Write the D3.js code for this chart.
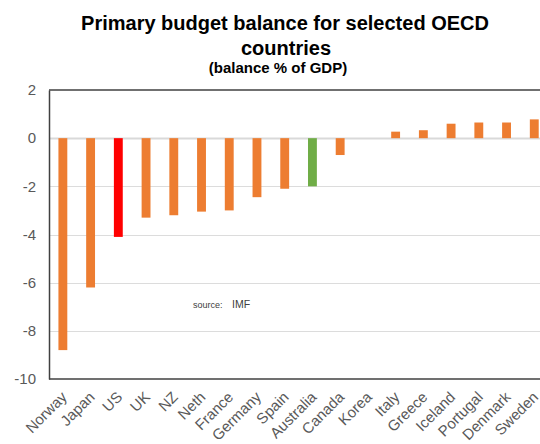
<!DOCTYPE html>
<html>
<head>
  <meta charset="UTF-8">
  <script src="https://d3js.org/d3.v7.min.js"></script>
  <title>Primary budget balance</title>
  <style>
    body { margin: 0; background: #fff; }
    svg { display: block; font-family: "Liberation Sans", Arial, sans-serif; }
  </style>
</head>
<body>
  <svg width="540" height="444"></svg>
  <script>
    // data
    const countries = ["Norway", "Japan", "US", "UK", "NZ", "Neth", "France", "Germany", "Spain",
      "Australia", "Canada", "Korea", "Italy", "Greece", "Iceland", "Portugal", "Denmark", "Sweden"];
    const balance = [-8.8, -6.2, -4.1, -3.3, -3.2, -3.05, -3.0, -2.45, -2.1,
      -2.0, -0.7, 0, 0.27, 0.33, 0.6, 0.65, 0.65, 0.78];
    const yTicks = [2, 0, -2, -4, -6, -8, -10];
    const highlight = { "US": "#ff0000", "Australia": "#70ad47" };

    const svg = d3.select("svg");
    const plotLeft = 49, plotTop = 90, plotBottom = 379;

    const x = d3.scaleBand()
      .domain(countries)
      .range([plotLeft, plotLeft + countries.length * 27.73])
      .paddingInner(0.68)
      .paddingOuter(0.34);

    const y = d3.scaleLinear().domain([-10, 2]).range([plotBottom, plotTop]);

    // gridlines
    svg.append("g")
      .selectAll("line")
      .data(yTicks.filter(d => d > -10 && d < 2))
      .enter().append("line")
      .attr("x1", plotLeft).attr("x2", 540)
      .attr("y1", d => Math.round(y(d)) + 0.5)
      .attr("y2", d => Math.round(y(d)) + 0.5)
      .attr("stroke", d => d === 0 ? "#d9d9d9" : "#dcdcdc")
      .attr("stroke-width", d => d === 0 ? 2 : 1);

    // bars
    svg.append("g")
      .selectAll("rect")
      .data(countries.map((c, i) => ({ c, v: balance[i] })).filter(d => d.v !== 0))
      .enter().append("rect")
      .attr("x", d => x(d.c))
      .attr("width", x.bandwidth())
      .attr("y", d => y(Math.max(0, d.v)))
      .attr("height", d => Math.abs(y(d.v) - y(0)))
      .attr("fill", d => highlight[d.c] || "#ed7d31");

    // frame
    svg.append("line").attr("x1", plotLeft).attr("x2", 540).attr("y1", plotTop).attr("y2", plotTop)
      .attr("stroke", "#404040").attr("stroke-width", 1.5);
    svg.append("line").attr("x1", plotLeft).attr("x2", 540).attr("y1", plotBottom).attr("y2", plotBottom)
      .attr("stroke", "#404040").attr("stroke-width", 1.5);

    // y axis (plain hyphen minus like the original)
    const yAxis = svg.append("g")
      .attr("transform", `translate(${plotLeft},0)`)
      .call(d3.axisLeft(y).tickValues(yTicks).tickSize(0).tickPadding(13).tickFormat(d => String(d)));
    yAxis.select(".domain").attr("stroke", "#404040").attr("stroke-width", 1.5);
    yAxis.selectAll("text")
      .attr("fill", "#595959")
      .style("font-size", "15px");

    // x labels, rotated
    svg.append("g")
      .selectAll("text")
      .data(countries)
      .enter().append("text")
      .attr("transform", d => `translate(${x(d) + x.bandwidth() / 2 + 5},${plotBottom + 19}) rotate(-45)`)
      .attr("text-anchor", "end")
      .attr("fill", "#595959")
      .style("font-size", "15px")
      .text(d => d);

    // titles
    svg.append("text").attr("x", 285).attr("y", 30).attr("text-anchor", "middle")
      .style("font-size", "20px").style("font-weight", "bold").attr("fill", "#000")
      .text("Primary budget balance for selected OECD");
    svg.append("text").attr("x", 286).attr("y", 55).attr("text-anchor", "middle")
      .style("font-size", "20px").style("font-weight", "bold").attr("fill", "#000")
      .text("countries");
    svg.append("text").attr("x", 278).attr("y", 73).attr("text-anchor", "middle")
      .style("font-size", "15px").style("font-weight", "bold").attr("fill", "#000")
      .text("(balance % of GDP)");

    // source note
    svg.append("text").attr("x", 193).attr("y", 308)
      .style("font-size", "9px").attr("fill", "#404040").text("source:");
    svg.append("text").attr("x", 232).attr("y", 308)
      .style("font-size", "10.5px").attr("fill", "#404040").text("IMF");
  </script>
</body>
</html>
